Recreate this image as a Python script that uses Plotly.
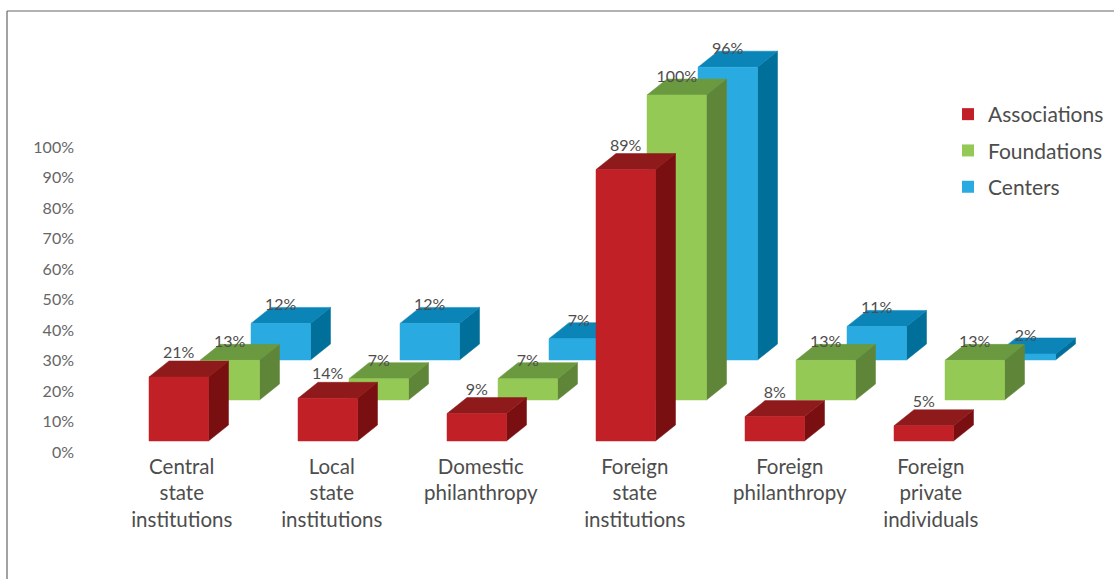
import plotly.graph_objects as go

categories = ["Central<br>state<br>institutions", "Local<br>state<br>institutions",
              "Domestic<br>philanthropy", "Foreign<br>state<br>institutions",
              "Foreign<br>philanthropy", "Foreign<br>private<br>individuals"]
associations = [21, 14, 9, 89, 8, 5]
foundations = [13, 7, 7, 100, 13, 13]
centers = [12, 12, 7, 96, 11, 2]
y_ticks = list(range(0, 101, 10))
label_shift = [3, 4, 4, 9, 15, 7]          # px shift of category labels from bar centre

W, H = 1114, 579
ML, MT, MB = 75, 12, 127
PX_PER_PCT = 3.05
GROUP_PX = 149.0
FIRST_BAR_PX = 149.0
BAR_PX = 59.5
DX_PX, DY_PX = 20.0, 16.0
FONT = "Lato"

series = [  # painted back to front
    dict(name="Centers", values=centers, shift=102, lift=92,
         front="#29ABE2", top="#0B84B8", side="#006F99", gap=1),
    dict(name="Foundations", values=foundations, shift=51, lift=52,
         front="#94C955", top="#6B993F", side="#5F8539", gap=1),
    dict(name="Associations", values=associations, shift=0, lift=11,
         front="#C12026", top="#8E1A1C", side="#7A0F12", gap=7),
]

ux = 1 / GROUP_PX
uy = 1 / PX_PER_PCT
bw, dx, dy = BAR_PX * ux, DX_PX * ux, DY_PX * uy


def poly(trace_x, trace_y, xs, ys):
    trace_x += xs + [xs[0], None]
    trace_y += ys + [ys[0], None]


fig = go.Figure()
for s in series:
    fx, fy, tx, ty, sx, sy = [], [], [], [], [], []
    for i, v in enumerate(s["values"]):
        x0 = i + s["shift"] * ux
        x1 = x0 + bw
        y0 = s["lift"] * uy
        y1 = y0 + v
        poly(sx, sy, [x1, x1 + dx, x1 + dx, x1], [y0, y0 + dy, y1 + dy, y1])
        poly(tx, ty, [x0, x1, x1 + dx, x0 + dx], [y1, y1, y1 + dy, y1 + dy])
        poly(fx, fy, [x0, x1, x1, x0], [y0, y0, y1, y1])
    for xs, ys, c in ((sx, sy, s["side"]), (tx, ty, s["top"]), (fx, fy, s["front"])):
        fig.add_trace(go.Scatter(x=xs, y=ys, mode="lines", fill="toself", fillcolor=c,
                                 line=dict(width=0.5, color=c), hoverinfo="skip", showlegend=False))

# data labels on top of everything
for s in series:
    fig.add_trace(go.Scatter(
        x=[i + (s["shift"] + BAR_PX / 2) * ux for i in range(6)],
        y=[s["lift"] * uy + v + dy + s["gap"] * uy for v in s["values"]],
        mode="text", text=[f"{v}%" for v in s["values"]],
        textposition="middle center",
        textfont=dict(family=FONT, size=16, color="#4D4D4D"),
        hoverinfo="skip", showlegend=False))

# legend entries
for s in reversed(series):
    fig.add_trace(go.Scatter(x=[None], y=[None], mode="markers", name=s["name"],
                             legendgroup=s["name"],
                             marker=dict(symbol="square", size=8, color=s["front"])))

pw = W - ML
fig.update_layout(
    width=W, height=H, autosize=False,
    margin=dict(l=ML, r=0, t=MT, b=MB),
    paper_bgcolor="white", plot_bgcolor="white",
    font=dict(family=FONT, color="#4D4D4D"),
    xaxis=dict(range=[(ML - FIRST_BAR_PX) * ux, (W - FIRST_BAR_PX) * ux],
               showgrid=False, zeroline=False, showline=False, ticks="", automargin=False,
               tickmode="array",
               tickvals=[i + (BAR_PX / 2 + d) * ux for i, d in enumerate(label_shift)],
               ticktext=categories, tickangle=0,
               tickfont=dict(family=FONT, size=20.5, color="#4D4D4D")),
    yaxis=dict(range=[0, (H - MT - MB) * uy],
               showgrid=False, zeroline=False, showline=False, ticks="", automargin=False,
               tickmode="array", tickvals=y_ticks, ticktext=[f"{t}%" for t in y_ticks],
               tickfont=dict(family=FONT, size=16, color="#666666")),
    legend=dict(x=(948 - ML) / pw, y=1 - (94 - MT) / (H - MT - MB), xanchor="left", yanchor="top",
                traceorder="grouped", tracegroupgap=6, itemsizing="constant",
                bgcolor="rgba(0,0,0,0)", font=dict(family=FONT, size=21, color="#4D4D4D")),
    shapes=[
        dict(type="line", xref="paper", yref="paper",
             x0=(7 - ML) / pw, x1=(7 - ML) / pw,
             y0=1 - (11 - MT) / (H - MT - MB), y1=1 - (H - MT) / (H - MT - MB),
             line=dict(color="#666666", width=1.2)),
        dict(type="line", xref="paper", yref="paper",
             x0=(7 - ML) / pw, x1=1,
             y0=1 - (11 - MT) / (H - MT - MB), y1=1 - (11 - MT) / (H - MT - MB),
             line=dict(color="#666666", width=1.2)),
    ],
)
fig.write_html("out.html", config=dict(displayModeBar=False),
               post_script="document.body.style.margin='0';document.body.style.overflow='hidden';")
